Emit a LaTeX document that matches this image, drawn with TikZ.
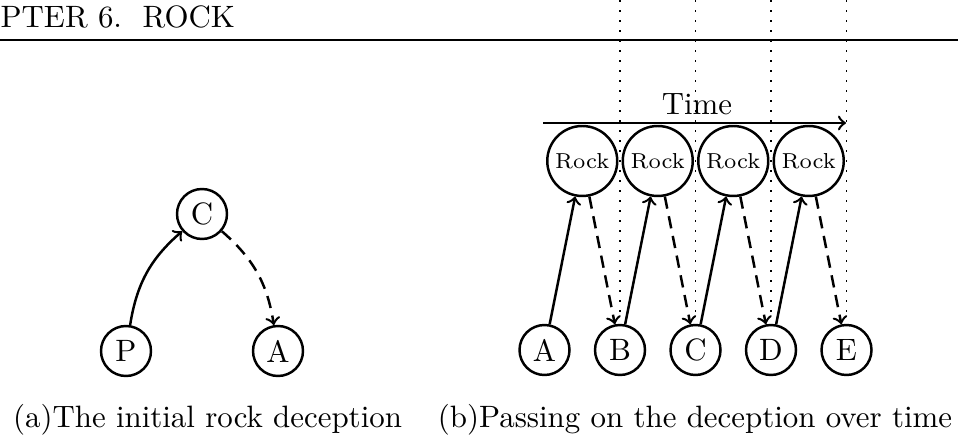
\documentclass[tikz,border=0pt]{standalone}
\begin{document}
\begin{tikzpicture}[x=0.32362pt,y=-0.32362pt,
  circ/.style={draw,circle,thick,inner sep=0pt,minimum size=16.18pt},
  rockc/.style={draw,circle,thick,inner sep=0pt,minimum size=22.65pt,font=\scriptsize},
  solidarrow/.style={->,thick},
  dasharrow/.style={->,thick,dash pattern=on 4pt off 2.5pt},
  guide/.style={line width=0.5pt,dash pattern=on 0.5pt off 2.74pt},
  headrule/.style={line width=0.5pt}]
\useasboundingbox (0,0) rectangle (958,436);

% running head
\node[anchor=base west,inner sep=0pt] (head) at (0,28) {PTER 6.\ \ ROCK};
\coordinate (rl) at (0,40);
\coordinate (rr) at (958,40);
\draw[headrule] (rl) -- (rr);

% (a)
\node[circ] (Ca) at (202,214) {C};
\node[circ] (Pa) at (126,351) {P};
\node[circ] (Aa) at (278,351) {A};
\draw[solidarrow] (Pa) to[bend left=20] (Ca);
\draw[dasharrow] (Ca) to[bend left=20] (Aa);
\node[anchor=base] (capa) at (207.5,427) {(a)The initial rock deception};

% (b) guides
\foreach \i/\x in {1/620,2/695.5,3/771,4/846.5}{
  \coordinate (gt\i) at (\x,0);
  \coordinate (gb\i) at (\x,312);
  \draw[guide] (gt\i) -- (gb\i);
}

% time axis
\coordinate (ts) at (543,123);
\coordinate (te) at (846,123);
\draw[->,thick] (ts) -- (te);
\node[anchor=base] (time) at (697,115) {Time};

% rocks
\node[rockc] (R1) at (582.25,161) {Rock};
\node[rockc] (R2) at (657.75,161) {Rock};
\node[rockc] (R3) at (733.25,161) {Rock};
\node[rockc] (R4) at (808.75,161) {Rock};

% people
\node[circ] (Ab) at (544.5,350) {A};
\node[circ] (Bb) at (620,350) {B};
\node[circ] (Cb) at (695.5,350) {C};
\node[circ] (Db) at (771,350) {D};
\node[circ] (Eb) at (846.5,350) {E};

\draw[solidarrow] (Ab) -- (R1);
\draw[dasharrow] (R1) -- (Bb);
\draw[solidarrow] (Bb) -- (R2);
\draw[dasharrow] (R2) -- (Cb);
\draw[solidarrow] (Cb) -- (R3);
\draw[dasharrow] (R3) -- (Db);
\draw[solidarrow] (Db) -- (R4);
\draw[dasharrow] (R4) -- (Eb);

\node[anchor=base] (capb) at (695,427) {(b)Passing on the deception over time};
\end{tikzpicture}
\end{document}
